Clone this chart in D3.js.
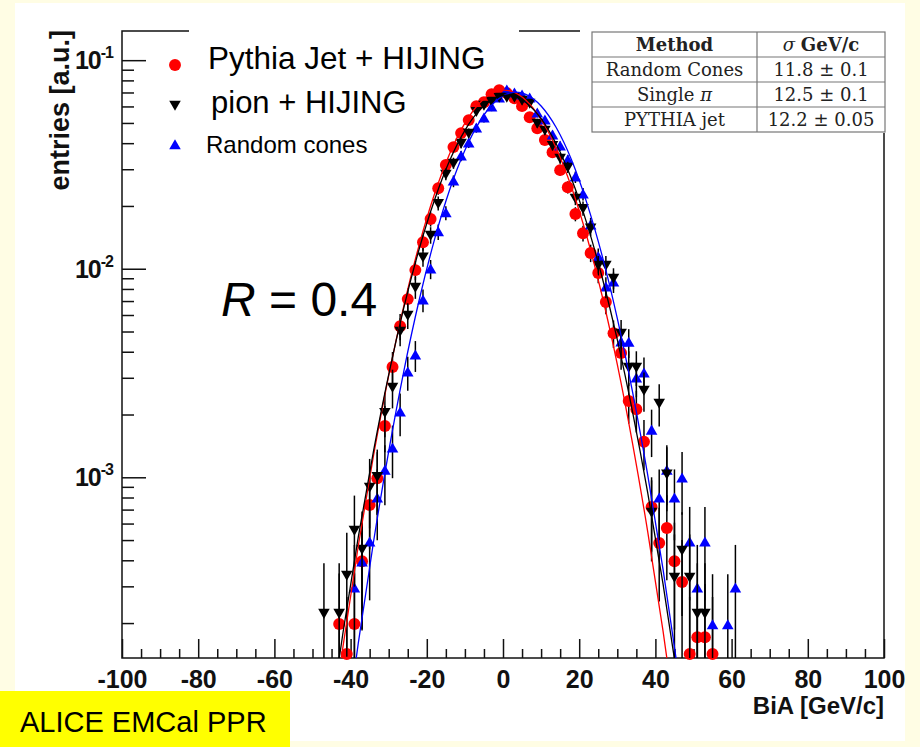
<!DOCTYPE html>
<html>
<head>
<meta charset="utf-8">
<script src="https://cdn.jsdelivr.net/npm/d3@7"></script>
<style>
  body { margin: 0; background: #fffde4; }
  svg { display: block; }
</style>
</head>
<body>
<svg id="chart" width="920" height="747"></svg>
<script>
// bin centres (GeV/c), 2 GeV/c wide
const bins = [-47,-45,-43,-41,-39,-37,-35,-33,-31,-29,-27,-25,-23,-21,-19,-17,-15,-13,-11,-9,-7,-5,-3,-1,
  1,3,5,7,9,11,13,15,17,19,21,23,25,27,29,31,33,35,37,39,41,43,45,47,49,51,53,55,57,59,61];

const pythiaVals = [null,null,1.98e-4,1.42e-4,1.98e-4,3.96e-4,7.36e-4,9.9e-4,1.76e-3,3.38e-3,5.3e-3,7.15e-3,9.85e-3,
  1.34e-2,1.73e-2,2.43e-2,3.14e-2,3.83e-2,4.47e-2,5.16e-2,6.02e-2,6.29e-2,6.87e-2,7.18e-2,
  6.95e-2,6.57e-2,6.02e-2,5.33e-2,4.72e-2,4.14e-2,3.62e-2,2.97e-2,2.46e-2,1.83e-2,1.48e-2,1.19e-2,9.53e-3,
  6.92e-3,4.91e-3,3.94e-3,2.32e-3,2.12e-3,1.48e-3,7.2e-4,4.84e-4,5.71e-4,3.96e-4,3.15e-4,1.42e-4,1.71e-4,
  1.71e-4,1.42e-4,null,null,null];
const pythiaErrs = [null,null,1.48e-4,1.25e-4,1.48e-4,2.09e-4,2.85e-4,3.3e-4,4.4e-4,6.1e-4,7.6e-4,8.9e-4,1.04e-3,
  1.21e-3,1.38e-3,1.64e-3,1.86e-3,2.05e-3,2.22e-3,2.38e-3,2.57e-3,2.63e-3,2.75e-3,2.81e-3,
  2.77e-3,2.69e-3,2.57e-3,2.42e-3,2.28e-3,2.13e-3,2.0e-3,1.81e-3,1.65e-3,1.42e-3,1.28e-3,1.14e-3,1.02e-3,
  8.7e-4,7.4e-4,6.6e-4,5.1e-4,4.8e-4,4.0e-4,2.8e-4,2.3e-4,2.5e-4,2.1e-4,1.86e-4,1.25e-4,1.37e-4,
  1.37e-4,1.25e-4,null,null,null];

const pionVals = [2.23e-4,null,2.23e-4,3.4e-4,5.58e-4,4.53e-4,8.97e-4,1.01e-3,2.05e-3,2.71e-3,5.02e-3,5.99e-3,8.16e-3,
  1.14e-2,1.45e-2,2.06e-2,2.84e-2,3.21e-2,4.0e-2,4.47e-2,5.69e-2,6.09e-2,6.36e-2,6.65e-2,
  6.65e-2,6.65e-2,6.43e-2,6.22e-2,4.99e-2,4.62e-2,3.91e-2,3.39e-2,3.07e-2,2.18e-2,1.95e-2,1.57e-2,1.04e-2,
  1.04e-2,9.01e-3,4.91e-3,3.38e-3,3.38e-3,2.62e-3,6.81e-4,2.27e-3,1.04e-3,3.32e-4,4.48e-4,3.32e-4,2.23e-4,
  2.23e-4,null,null,null,null];
const pionErrs = [1.64e-4,null,1.64e-4,2.02e-4,2.59e-4,2.33e-4,3.28e-4,3.48e-4,4.96e-4,5.7e-4,7.76e-4,8.48e-4,9.9e-4,
  1.17e-3,1.32e-3,1.57e-3,1.85e-3,1.96e-3,2.19e-3,2.32e-3,2.61e-3,2.7e-3,2.76e-3,2.82e-3,
  2.82e-3,2.82e-3,2.78e-3,2.73e-3,2.45e-3,2.35e-3,2.17e-3,2.02e-3,1.92e-3,1.62e-3,1.53e-3,1.37e-3,1.12e-3,
  1.12e-3,1.04e-3,7.7e-4,6.4e-4,6.4e-4,5.6e-4,2.86e-4,5.2e-4,3.53e-4,2.0e-4,2.32e-4,2.0e-4,1.64e-4,
  1.64e-4,null,null,null,null];

const conesVals = [null,null,null,null,2.94e-4,3.92e-4,4.89e-4,7.95e-4,1.08e-3,1.38e-3,2.05e-3,3.19e-3,3.85e-3,
  7.07e-3,9.96e-3,1.5e-2,1.85e-2,2.63e-2,3.47e-2,4.0e-2,4.72e-2,5.27e-2,5.95e-2,6.57e-2,
  7.18e-2,6.95e-2,6.8e-2,6.57e-2,5.57e-2,5.16e-2,4.37e-2,3.87e-2,3.32e-2,2.75e-2,2.28e-2,1.62e-2,1.14e-2,
  8.16e-3,8.62e-3,4.45e-3,4.43e-3,2.99e-3,3.16e-3,1.68e-3,7.95e-4,1.08e-3,7.95e-4,9.91e-4,4.89e-4,2.94e-4,
  4.89e-4,1.96e-4,null,1.96e-4,2.94e-4];
const conesErrs = [null,null,null,null,1.8e-4,2.08e-4,2.32e-4,2.96e-4,3.45e-4,3.9e-4,4.75e-4,5.92e-4,6.5e-4,
  8.8e-4,1.05e-3,1.28e-3,1.43e-3,1.7e-3,1.95e-3,2.1e-3,2.28e-3,2.41e-3,2.56e-3,2.69e-3,
  2.81e-3,2.77e-3,2.74e-3,2.69e-3,2.48e-3,2.38e-3,2.19e-3,2.06e-3,1.91e-3,1.74e-3,1.58e-3,1.34e-3,1.12e-3,
  9.5e-4,9.7e-4,7.0e-4,7.0e-4,5.7e-4,5.9e-4,4.3e-4,2.96e-4,3.45e-4,2.96e-4,3.3e-4,2.32e-4,1.8e-4,
  2.32e-4,1.47e-4,null,1.47e-4,1.8e-4];

// fit curves
const fitX = [-46,-42,-38,-34,-30,-26,-22,-18,-14,-10,-6,-2,2,6,10,14,18,22,26,30,34,38,42,46,50];
const pythiaFit = [4.57e-5,1.543e-4,4.67e-4,1.265e-3,3.07e-3,6.68e-3,1.302e-2,2.274e-2,3.56e-2,4.99e-2,6.27e-2,
  7.06e-2,7.11e-2,6.43e-2,5.2e-2,3.77e-2,2.45e-2,1.427e-2,7.44e-3,3.48e-3,1.455e-3,5.46e-4,1.835e-4,5.53e-5,1.5e-5];
const pionFit = [5.66e-5,1.797e-4,5.15e-4,1.332e-3,3.11e-3,6.54e-3,1.244e-2,2.13e-2,3.3e-2,4.61e-2,5.81e-2,
  6.6e-2,6.77e-2,6.27e-2,5.24e-2,3.95e-2,2.69e-2,1.651e-2,9.13e-3,4.57e-3,2.06e-3,8.39e-4,3.08e-4,1.02e-4,3.06e-5];
const conesFit = [1.2e-5,4.65e-5,1.595e-4,4.88e-4,1.332e-3,3.25e-3,7.08e-3,1.375e-2,2.39e-2,3.7e-2,5.12e-2,
  6.33e-2,6.97e-2,6.86e-2,6.03e-2,4.74e-2,3.32e-2,2.07e-2,1.159e-2,5.78e-3,2.57e-3,1.022e-3,3.63e-4,1.149e-4,3.25e-5];

const xTicks = [-100,-80,-60,-40,-20,0,20,40,60,80,100];
const yDecades = [1e-3,1e-2,1e-1];

const tableHead = ['Method', 'GeV/c'];
const tableRows = [['Random Cones','11.8 \u00b1 0.1'],['Single ','12.5 \u00b1 0.1'],['PYTHIA jet','12.2 \u00b1 0.05']];

const svg = d3.select('#chart');
const margin = {top: 31, right: 36, bottom: 89, left: 122};
const W = 920, H = 747;
const x = d3.scaleLinear().domain([-100, 100]).range([margin.left, W - margin.right]);
const y = d3.scaleLog().domain([1.36e-4, 0.138]).range([H - margin.bottom, margin.top]);
const yc = y.copy().clamp(true);
const sans = "'Liberation Sans', Arial, sans-serif";

// white page panel
svg.append('rect').attr('x', 15).attr('y', 3).attr('width', 890).attr('height', 738).attr('fill', '#fff');

svg.append('defs').append('clipPath').attr('id', 'plotclip')
    .append('rect').attr('x', x(-100)).attr('y', y(0.138)).attr('width', x(100) - x(-100)).attr('height', y(1.36e-4) - y(0.138));

// frame
svg.append('rect')
    .attr('x', x(-100)).attr('y', y(0.138))
    .attr('width', x(100) - x(-100)).attr('height', y(1.36e-4) - y(0.138))
    .attr('fill', 'none').attr('stroke', '#111').attr('stroke-width', 1.5);

// axes
const minorY = [];
[1e-4, 1e-3, 1e-2].forEach(d => { for (let k = 2; k <= 9; k++) { const v = d * k; if (v > 1.36e-4) minorY.push(v); } });
const minorX = d3.range(-100, 101, 5).filter(v => v % 20 !== 0);

function styleAxis(g) {
    g.select('.domain').remove();
    g.selectAll('line').attr('stroke', '#111').attr('stroke-width', 1.5);
}

svg.append('g').attr('transform', `translate(${x(-100)},0)`)
    .call(d3.axisRight(y).tickValues(yDecades).tickSize(24).tickFormat(''))
    .call(styleAxis);
svg.append('g').attr('transform', `translate(${x(-100)},0)`)
    .call(d3.axisRight(y).tickValues(minorY).tickSize(12).tickFormat(''))
    .call(styleAxis);

const xAxis = svg.append('g').attr('transform', `translate(0,${y(1.36e-4)})`)
    .call(d3.axisBottom(x).tickValues(xTicks).tickSizeInner(-19).tickSizeOuter(0).tickPadding(12).tickFormat(d => String(d)))
    .call(styleAxis);
xAxis.selectAll('text').attr('font-family', sans).attr('font-weight', 'bold').attr('font-size', 25).attr('fill', '#111');
svg.append('g').attr('transform', `translate(0,${y(1.36e-4)})`)
    .call(d3.axisBottom(x).tickValues(minorX).tickSizeInner(-9).tickSizeOuter(0).tickFormat(''))
    .call(styleAxis);

// y tick labels 10^n
const yLab = svg.append('g').selectAll('text').data(yDecades).join('text')
    .attr('x', 113).attr('y', d => y(d) + 9)
    .attr('text-anchor', 'end')
    .attr('font-family', sans).attr('font-weight', 'bold').attr('font-size', 25)
    .attr('letter-spacing', -1).attr('fill', '#111');
yLab.append('tspan').text('10');
yLab.append('tspan').attr('dy', -11).attr('font-size', 16).text(d => String(Math.round(Math.log10(d))));

// axis titles
svg.append('text')
    .attr('transform', 'translate(69,30) rotate(-90)')
    .attr('text-anchor', 'end')
    .attr('font-family', sans).attr('font-weight', 'bold').attr('font-size', 27).attr('fill', '#111')
    .text('entries [a.u.]');
svg.append('text')
    .attr('x', 884).attr('y', 714).attr('text-anchor', 'end')
    .attr('font-family', sans).attr('font-weight', 'bold').attr('font-size', 24).attr('fill', '#111')
    .text('BiA [GeV/c]');

// series
const series = [
    {name: 'Pythia Jet + HIJING', vals: pythiaVals, errs: pythiaErrs, fit: pythiaFit, color: '#ff0000', symbol: d3.symbolCircle, size: 112, rot: 0},
    {name: 'Random cones', vals: conesVals, errs: conesErrs, fit: conesFit, color: '#0000ff', symbol: d3.symbolTriangle, size: 58, rot: 0},
    {name: 'pion + HIJING', vals: pionVals, errs: pionErrs, fit: pionFit, color: '#000000', symbol: d3.symbolTriangle, size: 58, rot: 180}
];

// legend strip: hides the top frame behind the legend
svg.append('rect').attr('x', 189).attr('y', 26).attr('width', 330).attr('height', 10).attr('fill', '#fff');

const plot = svg.append('g');
series.forEach(s => {
    const pts = bins.map((b, i) => ({b, v: s.vals[i], e: s.errs[i]})).filter(d => d.v != null);
    const g = plot.append('g');
    g.selectAll('line').data(pts).join('line')
        .attr('x1', d => x(d.b)).attr('x2', d => x(d.b))
        .attr('y1', d => yc(Math.max(d.v - d.e, 1e-7))).attr('y2', d => yc(d.v + d.e))
        .attr('stroke', '#000').attr('stroke-width', 1.5);
    g.selectAll('path').data(pts).join('path')
        .attr('d', d3.symbol(s.symbol, s.size))
        .attr('transform', d => `translate(${x(d.b)},${y(d.v) + (s.symbol === d3.symbolTriangle ? (s.rot ? -1 : 1) : 0)}) rotate(${s.rot})`)
        .attr('fill', s.color);
});

const fitLine = d3.line().x(d => x(d[0])).y(d => y(d[1])).curve(d3.curveNatural);
series.forEach(s => {
    plot.append('path')
        .datum(fitX.map((u, i) => [u, s.fit[i]]))
        .attr('clip-path', 'url(#plotclip)')
        .attr('d', fitLine)
        .attr('fill', 'none').attr('stroke', s.color).attr('stroke-width', 1.3);
});

// legend
const leg = svg.append('g');
const legItems = [
    {s: series[0], cy: 65, tx: 208, ty: 69, fs: 31.5},
    {s: series[2], cy: 104, tx: 211, ty: 113, fs: 31},
    {s: series[1], cy: 146, tx: 206, ty: 153, fs: 24}
];
legItems.forEach(it => {
    leg.append('path').attr('d', d3.symbol(it.s.symbol, it.s.size))
        .attr('transform', `translate(175,${it.cy}) rotate(${it.s.rot})`).attr('fill', it.s.color);
    leg.append('text').attr('x', it.tx).attr('y', it.ty)
        .attr('font-family', sans).attr('font-size', it.fs).attr('fill', '#000')
        .text(it.s.name);
});

// R = 0.4
const rt = svg.append('text').attr('x', 221).attr('y', 316)
    .attr('font-family', sans).attr('font-size', 48).attr('fill', '#000');
rt.append('tspan').attr('font-style', 'italic').text('R');
rt.append('tspan').text(' = 0.4');

// sigma table
const serif = "'DejaVu Serif', 'Liberation Serif', serif";
const tb = svg.append('g');
tb.append('rect').attr('x', 580).attr('y', 20).attr('width', 320).attr('height', 113).attr('fill', '#fff');
const tx0 = 592, tx1 = 757, tx2 = 885, ty0 = 32, rowH = 25;
tb.append('rect').attr('x', tx0).attr('y', ty0).attr('width', tx2 - tx0).attr('height', rowH * 4)
    .attr('fill', 'none').attr('stroke', '#777').attr('stroke-width', 1.2);
tb.append('line').attr('x1', tx1).attr('x2', tx1).attr('y1', ty0).attr('y2', ty0 + rowH * 4).attr('stroke', '#777').attr('stroke-width', 1.2);
[1, 2, 3].forEach(r => tb.append('line').attr('x1', tx0).attr('x2', tx2)
    .attr('y1', ty0 + rowH * r).attr('y2', ty0 + rowH * r).attr('stroke', '#777').attr('stroke-width', 1.2));

const c1 = (tx0 + tx1) / 2, c2 = (tx1 + tx2) / 2;
tb.append('text').attr('x', c1).attr('y', ty0 + 19).attr('text-anchor', 'middle')
    .attr('font-family', serif).attr('font-size', 18).attr('font-weight', 'bold').attr('fill', '#222').text(tableHead[0]);
const h2 = tb.append('text').attr('x', c2).attr('y', ty0 + 19).attr('text-anchor', 'middle')
    .attr('font-family', serif).attr('font-size', 18).attr('fill', '#222');
h2.append('tspan').attr('font-style', 'italic').text('\u03c3 ');
h2.append('tspan').attr('font-weight', 'bold').text(tableHead[1]);

tableRows.forEach((row, r) => {
    const yy = ty0 + rowH * (r + 1) + 19;
    const t1 = tb.append('text').attr('x', c1).attr('y', yy).attr('text-anchor', 'middle')
        .attr('font-family', serif).attr('font-size', 18).attr('fill', '#222');
    t1.append('tspan').text(row[0]);
    if (r === 1) t1.append('tspan').attr('font-style', 'italic').text('\u03c0');
    tb.append('text').attr('x', c2).attr('y', yy).attr('text-anchor', 'middle')
        .attr('font-family', serif).attr('font-size', 18).attr('fill', '#222').text(row[1]);
});

// ALICE EMCal PPR tag
svg.append('rect').attr('x', 0).attr('y', 691).attr('width', 290).attr('height', 56).attr('fill', '#ffff00');
svg.append('text').attr('x', 20).attr('y', 732)
    .attr('font-family', sans).attr('font-size', 29).attr('fill', '#000')
    .text('ALICE EMCal PPR');
</script>
</body>
</html>
